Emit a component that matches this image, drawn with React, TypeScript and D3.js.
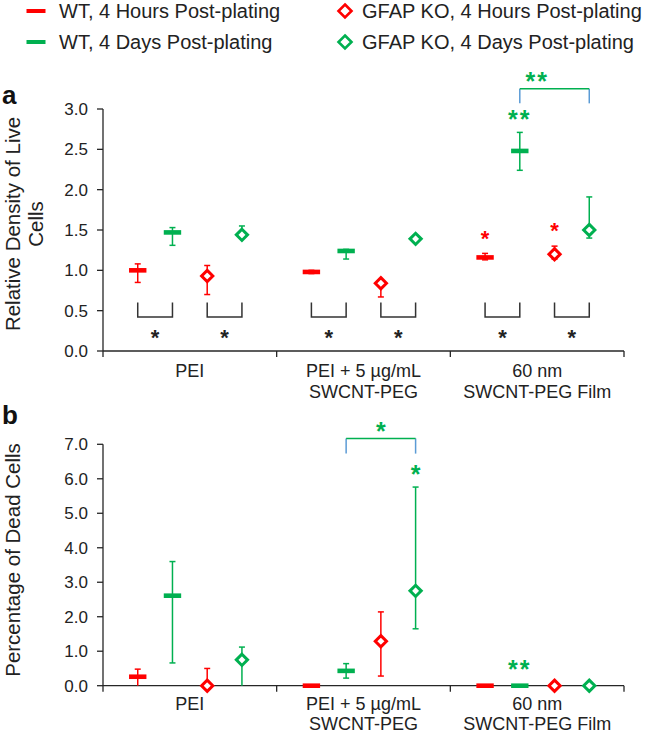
import React from "react";
import * as d3 from "d3";

// ---------- data ----------
const GROUPS = ["PEI", "PEI + 5 µg/mL|SWCNT-PEG", "60 nm|SWCNT-PEG Film"];
const SERIES = ["WT4h", "WT4d", "KO4h", "KO4d"];
const SERIES_LABELS = [
  "WT, 4 Hours Post-plating",
  "WT, 4 Days Post-plating",
  "GFAP KO, 4 Hours Post-plating",
  "GFAP KO, 4 Days Post-plating",
];

// Panel a: relative density of live cells
const liveWT4h = [1.0, 0.98, 1.16];
const liveWT4hLo = [0.85, 0.96, 1.13];
const liveWT4hHi = [1.08, 1.0, 1.21];
const liveWT4d = [1.47, 1.24, 2.48];
const liveWT4dLo = [1.31, 1.14, 2.24];
const liveWT4dHi = [1.53, 1.26, 2.71];
const liveKO4h = [0.93, 0.84, 1.2];
const liveKO4hLo = [0.7, 0.67, 1.14];
const liveKO4hHi = [1.06, 0.87, 1.3];
const liveKO4d = [1.44, 1.39, 1.5];
const liveKO4dLo = [1.4, 1.35, 1.4];
const liveKO4dHi = [1.55, 1.43, 1.91];
const liveTicks = [0, 0.5, 1, 1.5, 2, 2.5, 3];

// Panel b: percentage of dead cells
const deadWT4h = [0.26, 0.0, 0.0];
const deadWT4hLo = [0.0, 0.0, 0.0];
const deadWT4hHi = [0.48, 0.0, 0.0];
const deadWT4d = [2.61, 0.43, 0.0];
const deadWT4dLo = [0.66, 0.22, 0.0];
const deadWT4dHi = [3.6, 0.64, 0.0];
const deadKO4h = [0.0, 1.29, 0.0];
const deadKO4hLo = [0.0, 0.28, 0.0];
const deadKO4hHi = [0.5, 2.14, 0.0];
const deadKO4d = [0.75, 2.75, 0.0];
const deadKO4dLo = [0.0, 1.65, 0.0];
const deadKO4dHi = [1.12, 5.76, 0.0];
const deadTicks = [0, 1, 2, 3, 4, 5, 6, 7];

// significance annotations (group index, series index, value level, text, colour key)
const liveStars = [
  { g: 2, s: 0, v: 1.46, t: "*", c: "red" },
  { g: 2, s: 2, v: 1.56, t: "*", c: "red" },
  { g: 2, s: 1, v: 2.95, t: "**", c: "green" },
  { g: 2, s: 1.5, v: 3.42, t: "**", c: "green" },
];
const deadStars = [
  { g: 1, s: 3, v: 6.32, t: "*", c: "green" },
  { g: 1, s: 2, v: 7.55, t: "*", c: "green" },
  { g: 2, s: 1, v: 0.65, t: "**", c: "green" },
];
// top brackets: group, from series, to series, top level, leg bottom level
const liveTopBrackets = [{ g: 2, s0: 1, s1: 3, top: 3.25, bot: 3.07 }];
const deadTopBrackets = [{ g: 1, s0: 1, s1: 3, top: 7.17, bot: 6.73 }];
// bottom comparison brackets (panel a), levels in data units
const livePairs = [
  [0, 1],
  [2, 3],
];
const livePairTop = 0.6;
const livePairBot = 0.42;
const livePairStar = 0.24;

// ---------- style ----------
const RED = "#ff0000";
const GREEN = "#00b050";
const BLUE = "#5b9bd5";
const INK = "#262626";
const FONT = "'Liberation Sans', Arial, Helvetica, sans-serif";
const COLORS = { red: RED, green: GREEN };
const SERIES_COLOR = [RED, GREEN, RED, GREEN];
const SERIES_SHAPE = ["dash", "dash", "diamond", "diamond"];

const X0 = 103;
const X1 = 624;

const xBand = d3.scaleBand().domain(GROUPS).range([X0, X1]).padding(0);
const bw = xBand.bandwidth();
const xInner = d3.scaleLinear().domain([-1, 4]).range([0, bw]);
const xPos = (g, s) => (xBand(GROUPS[g]) as number) + xInner(s);

const yA = d3.scaleLinear().domain([0, 3]).range([351, 109]);
const yB = d3.scaleLinear().domain([0, 7]).range([685.7, 444.3]);
const fmt = d3.format(".1f");

function buildRows(vals, los, his) {
  const rows = [];
  SERIES.forEach((_, s) => {
    GROUPS.forEach((_, g) => {
      rows.push({ g, s, v: vals[s][g], lo: los[s][g], hi: his[s][g] });
    });
  });
  return rows;
}

const liveRows = buildRows(
  [liveWT4h, liveWT4d, liveKO4h, liveKO4d],
  [liveWT4hLo, liveWT4dLo, liveKO4hLo, liveKO4dLo],
  [liveWT4hHi, liveWT4dHi, liveKO4hHi, liveKO4dHi]
);
const deadRows = buildRows(
  [deadWT4h, deadWT4d, deadKO4h, deadKO4d],
  [deadWT4hLo, deadWT4dLo, deadKO4hLo, deadKO4dLo],
  [deadWT4hHi, deadWT4dHi, deadKO4hHi, deadKO4dHi]
);

function Diamond({ cx, cy, color, r = 5.6, sw = 3 }) {
  const p = d3.path();
  p.moveTo(cx, cy - r);
  p.lineTo(cx + r, cy);
  p.lineTo(cx, cy + r);
  p.lineTo(cx - r, cy);
  p.closePath();
  return <path d={p.toString()} fill="#fff" stroke={color} strokeWidth={sw} strokeLinejoin="miter" />;
}

function Stars({ x, yv, text, color, size }) {
  // asterisk glyph centre sits about 0.59em above the baseline
  return (
    <text
      x={x}
      y={yv + size * 0.59}
      textAnchor="middle"
      fontFamily={FONT}
      fontWeight="bold"
      fontSize={size}
      letterSpacing={text.length > 1 ? 2 : 0}
      fill={color}
    >
      {text}
    </text>
  );
}

function Panel({ y, ticks, rows, yTitle, stars, topBrackets, pairs, labelGap, lineGap }) {
  const [y0, y1] = y.range();
  return (
    <g>
      {/* y axis */}
      <line x1={X0} x2={X0} y1={y1} y2={y0} stroke={INK} strokeWidth={1.3} />
      {ticks.map((t) => (
        <g key={t}>
          <line x1={X0 - 6} x2={X0} y1={y(t)} y2={y(t)} stroke={INK} strokeWidth={1.3} />
          <text x={88} y={y(t) + 6} textAnchor="end" fontFamily={FONT} fontSize={17} fill="#222">
            {fmt(t)}
          </text>
        </g>
      ))}
      {/* x axis */}
      <line x1={X0} x2={X1} y1={y0} y2={y0} stroke={INK} strokeWidth={1.3} />
      {[...GROUPS.map((gname) => xBand(gname) as number), X1].map((x, i) => (
        <line key={i} x1={x} x2={x} y1={y0} y2={y0 + 6} stroke={INK} strokeWidth={1.3} />
      ))}
      {GROUPS.map((gname) => {
        const lines = gname.split("|");
        const cx = (xBand(gname) as number) + bw / 2;
        return (
          <text key={gname} textAnchor="middle" fontFamily={FONT} fontSize={18} fill="#222">
            {lines.map((l, i) => (
              <tspan key={i} x={cx} y={y0 + labelGap + i * lineGap}>
                {l}
              </tspan>
            ))}
          </text>
        );
      })}
      {/* y title */}
      {yTitle}
      {/* bottom brackets */}
      {pairs &&
        GROUPS.map((_, g) =>
          pairs.map(([a, b], k) => {
            const xa = xPos(g, a);
            const xb = xPos(g, b);
            return (
              <g key={g + "-" + k}>
                <path
                  d={`M${xa},${y(livePairTop)}V${y(livePairBot)}H${xb}V${y(livePairTop)}`}
                  fill="none"
                  stroke="#333"
                  strokeWidth={1.5}
                />
                <Stars x={(xa + xb) / 2} yv={y(livePairStar)} text="*" color="#222" size={22} />
              </g>
            );
          })
        )}
      {/* top brackets */}
      {topBrackets.map((b, i) => {
        const xa = xPos(b.g, b.s0);
        const xb = xPos(b.g, b.s1);
        return (
          <g key={i}>
            <line x1={xa} x2={xa} y1={y(b.top)} y2={y(b.bot)} stroke={BLUE} strokeWidth={1.5} />
            <line x1={xb} x2={xb} y1={y(b.top)} y2={y(b.bot)} stroke={BLUE} strokeWidth={1.5} />
            <line x1={xa} x2={xb} y1={y(b.top)} y2={y(b.top)} stroke={GREEN} strokeWidth={1.5} />
          </g>
        );
      })}
      {stars.map((s, i) => (
        <Stars
          key={i}
          x={xPos(s.g, s.s)}
          yv={y(s.v)}
          text={s.t}
          color={COLORS[s.c]}
          size={s.c === "red" ? 22 : 25}
        />
      ))}
      {/* error bars */}
      {rows.map((r, i) => {
        const cx = xPos(r.g, r.s);
        const col = SERIES_COLOR[r.s];
        if (r.hi - r.lo <= 0) return null;
        return (
          <g key={"e" + i} stroke={col} strokeWidth={1.5}>
            <line x1={cx} x2={cx} y1={y(r.lo)} y2={y(r.hi)} />
            <line x1={cx - 3} x2={cx + 3} y1={y(r.hi)} y2={y(r.hi)} />
            {r.lo > 0 && <line x1={cx - 3} x2={cx + 3} y1={y(r.lo)} y2={y(r.lo)} />}
          </g>
        );
      })}
      {/* markers */}
      {rows.map((r, i) => {
        const cx = xPos(r.g, r.s);
        const cy = y(r.v);
        const col = SERIES_COLOR[r.s];
        return SERIES_SHAPE[r.s] === "dash" ? (
          <rect key={"m" + i} x={cx - 8.7} y={cy - 2.3} width={17.4} height={4.6} fill={col} />
        ) : (
          <Diamond key={"m" + i} cx={cx} cy={cy} color={col} />
        );
      })}
    </g>
  );
}

function Legend() {
  const rowsY = [11, 42];
  const cols = [
    { mx: 36, tx: 59 },
    { mx: 345, tx: 362 },
  ];
  return (
    <g>
      {SERIES.map((s, i) => {
        const col = cols[Math.floor(i / 2)];
        const ry = rowsY[i % 2];
        return (
          <g key={s}>
            {SERIES_SHAPE[i] === "dash" ? (
              <rect x={col.mx - 9.5} y={ry - 2} width={19} height={4} fill={SERIES_COLOR[i]} />
            ) : (
              <Diamond cx={col.mx} cy={ry} color={SERIES_COLOR[i]} r={6.5} sw={2.6} />
            )}
            <text x={col.tx} y={ry + 7} fontFamily={FONT} fontSize={20} fill="#222">
              {SERIES_LABELS[i]}
            </text>
          </g>
        );
      })}
    </g>
  );
}

export default function App() {
  const centerA = 224;
  const centerB = 560;
  return (
    <svg
      width={664}
      height={735}
      viewBox="0 0 664 735"
      style={{ position: "absolute", left: 0, top: 0, background: "#fff" }}
    >
      <rect width={664} height={735} fill="#fff" />
      <Legend />
      <text x={2} y={104} fontFamily={FONT} fontWeight="bold" fontSize={26} fill="#111">
        a
      </text>
      <text x={2} y={424} fontFamily={FONT} fontWeight="bold" fontSize={26} fill="#111">
        b
      </text>
      <Panel
        y={yA}
        ticks={liveTicks}
        rows={liveRows}
        stars={liveStars}
        topBrackets={liveTopBrackets}
        pairs={livePairs}
        labelGap={26}
        lineGap={21}
        yTitle={
          <text
            transform={`translate(0,${centerA}) rotate(-90)`}
            textAnchor="middle"
            fontFamily={FONT}
            fontSize={20.5}
            fill="#222"
          >
            <tspan x={0} y={20}>
              Relative Density of Live
            </tspan>
            <tspan x={0} y={43}>
              Cells
            </tspan>
          </text>
        }
      />
      <Panel
        y={yB}
        ticks={deadTicks}
        rows={deadRows}
        stars={deadStars}
        topBrackets={deadTopBrackets}
        pairs={null}
        labelGap={24}
        lineGap={20}
        yTitle={
          <text
            transform={`translate(0,${centerB}) rotate(-90)`}
            textAnchor="middle"
            fontFamily={FONT}
            fontSize={20.5}
            fill="#222"
          >
            <tspan x={0} y={20}>
              Percentage of Dead Cells
            </tspan>
          </text>
        }
      />
    </svg>
  );
}
